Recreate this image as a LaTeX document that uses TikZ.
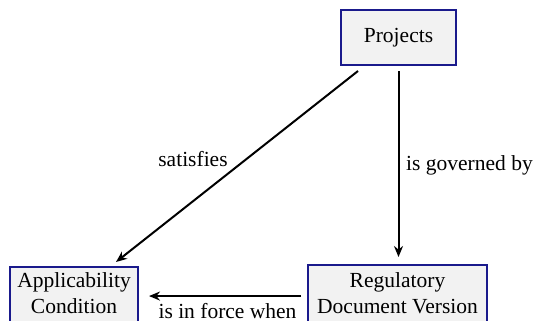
\documentclass[tikz,border=0pt]{standalone}
\usepackage{fontspec}
\setmainfont{LiberationSerif-Regular.ttf}
\newfontfamily\diagfont{LiberationSerif-Regular.ttf}
\usetikzlibrary{arrows.meta,calc}
\definecolor{boxline}{HTML}{1A1A8C}
\definecolor{boxfill}{HTML}{F2F2F2}
\tikzset{
  entity/.style={draw=boxline, fill=boxfill, line width=1pt, inner sep=0pt, align=center,
    font=\diagfont\fontsize{10.75}{13}\selectfont},
  rel/.style={-{Stealth[length=5.5pt,width=4.5pt]}, line width=1pt, black},
  lbl/.style={font=\diagfont\fontsize{10.75}{13}\selectfont, inner sep=0pt, anchor=base}
}
\begin{document}
\begin{tikzpicture}[x=0.5pt,y=-0.5pt]
\useasboundingbox (0,0) rectangle (535,321);
\clip (0,0) rectangle (535,321);
\node[entity, minimum width=57.5pt, minimum height=27.5pt] (P) at (398.5,37.5) {Projects};
\node[entity, minimum width=64pt, minimum height=38.65pt] (A) at (74,305.65) {Applicability\\Condition\\\mbox{}};
\node[entity, minimum width=89.5pt, minimum height=40.65pt] (R) at (397.5,305.65) {Regulatory\\Document Version\\\mbox{}};
\draw[rel] ([xshift=9pt,yshift=-2.5pt]P.south west) -- ([xshift=-11.5pt,yshift=2pt]A.north east);
\draw[rel, shorten <=2.5pt, shorten >=3.5pt] (P.south) -- (P.south |- R.north);
\draw[rel, shorten <=3pt, shorten >=5pt] ([yshift=4.8pt]R.west) -- ([yshift=4.8pt]A.east);
\node[lbl] (l1) at (193,166) {satisfies};
\node[lbl] (l2) at (469.5,170) {is governed by};
\node[lbl] (l3) at (227.5,318) {is in force when};
\end{tikzpicture}
\end{document}
